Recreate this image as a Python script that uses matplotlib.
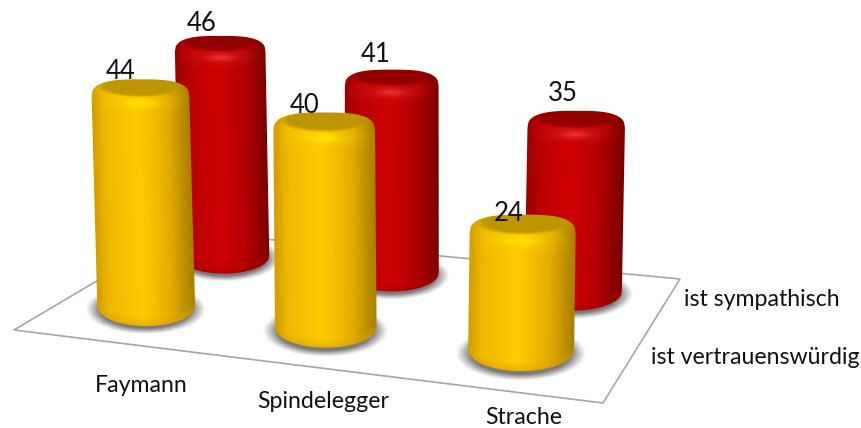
import numpy as np
import matplotlib
matplotlib.use("Agg")
import matplotlib.pyplot as plt
from matplotlib.patches import Polygon
from matplotlib.colors import to_rgb

categorias = ["Faymann", "Spindelegger", "Strache"]
series = ["ist vertrauensw\u00fcrdig", "ist sympathisch"]
vertrauen = [44, 40, 24]
sympathisch = [46, 41, 35]

plt.rcParams["font.family"] = ["Lato", "DejaVu Sans"]

# esquinas del piso en pixeles: frente-izq, frente-der, fondo-der, fondo-izq
PISO = [(14, 330), (603, 403), (680, 279), (181, 231)]

# posiciones de los textos
ETIQ_CAT = [(141, 386), (323, 401), (524, 418)]
ETIQ_SERIE = [(755, 358), (762, 299)]
# desplazamiento de las etiquetas de valor respecto a la cima del cilindro
DESP_VAL = {"amarillo": [(-20, -8), (-20, -7), (-14, -1)],
            "rojo": [(-19, -12), (-16, -15), (-13, -17)]}

# gradiente horizontal del cilindro
POS = [-1.0, -0.75, -0.05, 0.5, 1.0]
AMARILLO = dict(lados=["#d09c00", "#efb900", "#ffcb00", "#e6ae00", "#a67e00"],
                tapa="#bd9600", brillo="#ffe800", borde="#d79e00")
ROJO = dict(lados=["#980000", "#b80000", "#cf0000", "#b20000", "#7a0000"],
            tapa="#930000", brillo="#ee3535", borde="#a80000")


def homografia(esq):
    src = [(0, 0), (1, 0), (1, 1), (0, 1)]
    A, b = [], []
    for (u, v), (x, y) in zip(src, esq):
        A.append([u, v, 1, 0, 0, 0, -u * x, -v * x])
        A.append([0, 0, 0, u, v, 1, -u * y, -v * y])
        b += [x, y]
    return np.append(np.linalg.solve(np.array(A, float), np.array(b, float)), 1).reshape(3, 3)


H = homografia(PISO)


def piso(u, v):
    p = H @ np.array([u, v, 1.0])
    return p[:2] / p[2]


def gradiente(colores):
    # tabla suavizada para que no se noten los quiebres
    ng = np.linspace(-1.3, 1.3, 521)
    lados = np.array([to_rgb(c) for c in colores])
    kern = np.hanning(61)
    kern /= kern.sum()
    tabla = []
    for k in range(3):
        c = np.interp(ng, POS, lados[:, k])
        tabla.append(np.convolve(np.pad(c, 30, mode="edge"), kern, mode="valid"))
    return ng, np.array(tabla)


def cilindro(ax, u, v, valor, estilo, z):
    cx, cy = piso(u, v)
    cy -= 5
    local = np.linalg.norm(piso(u + 0.05, v) - piso(u - 0.05, v)) * 0.86
    r = 0.5 * local + 27.5 - 4 * v
    b = r * 0.40
    btop = r * 0.35
    alto = (valor * 0.1047 - 0.31) * r
    ytop = cy - alto
    lean = (cx - 400) * 0.0214  # las verticales se inclinan por la perspectiva

    def centro(y):
        return cx - lean * (y - cy) / 200.0

    # sombra en el piso
    xs = np.arange(cx - 2 * r, cx + 2 * r)
    ys = np.arange(cy - 2 * b, cy + 2 * b + 20)
    xg, yg = np.meshgrid(xs, ys)
    d = np.sqrt(((xg - cx) / (r * 1.24)) ** 2 + ((yg - cy - 3) / (b * 1.3)) ** 2)
    sombra = np.zeros(xg.shape + (4,))
    sombra[..., :3] = 0.42
    sombra[..., 3] = np.clip((1.0 - d) / 0.24, 0, 1) ** 1.1 * 0.9
    ax.imshow(sombra, extent=(xs[0], xs[-1], ys[-1], ys[0]), zorder=z - 0.5, aspect="auto")

    # cuerpo + tapa, sombreado pixel a pixel
    xs = np.arange(cx - r - 12, cx + r + 12, 0.5)
    ys = np.arange(ytop - btop - 4, cy + b + 4, 0.5)
    xg, yg = np.meshgrid(xs, ys)
    n = np.clip((xg - centro(yg)) / r, -1, 1)
    ng, tabla = gradiente(estilo["lados"])
    img = np.stack([np.interp(n, ng, tabla[k]) for k in range(3)], axis=-1)

    # borde inferior algo mas oscuro
    base = cy + b * np.sqrt(1 - n ** 2)
    m = np.clip(1 - (base - yg) / 9.0, 0, 1)[..., None] * 0.55
    img = img * (1 - m) + np.array(to_rgb(estilo["borde"])) * m

    # bisel: franja un poco mas clara y brillo frontal
    g = np.exp(-((yg - (ytop + btop * 0.3)) / (btop * 0.55)) ** 2)[..., None] * 0.25 * (1 - n[..., None] ** 2)
    img = img * (1 - g) + np.array(to_rgb(estilo["brillo"])) * g
    g = np.exp(-((n / 0.27) ** 2) - ((yg - (ytop + btop * 0.42)) / (btop * 0.2)) ** 2)[..., None] * 0.85
    img = img * (1 - g) + np.array(to_rgb(estilo["brillo"])) * g

    # cara superior oscura
    d = np.sqrt((n / 0.82) ** 2 + ((yg - (ytop - btop * 0.62)) / (btop * 0.62)) ** 2)
    t = np.clip((1.12 - d) / 0.26, 0, 1)[..., None]
    img = img * (1 - t) + np.array(to_rgb(estilo["tapa"])) * t

    ax_img = ax.imshow(img, extent=(xs[0], xs[-1], ys[-1], ys[0]), zorder=z, aspect="auto",
                       interpolation="bilinear")

    # silueta: arriba superelipse (hombros redondeados), abajo elipse
    th = np.linspace(-1, 1, 121)
    sup = np.abs(th) ** 3
    top = [(centro(ytop) + r * t_, ytop - btop * (1 - s) ** (1 / 2.6)) for t_, s in zip(th, sup)]
    bot = [(centro(cy) + r * t_, cy + b * np.sqrt(1 - t_ ** 2)) for t_ in th[::-1]]
    clip = Polygon(top + bot, closed=True, transform=ax.transData, fc="none", ec="none")
    ax.add_patch(clip)
    ax_img.set_clip_path(clip)

    # devuelve la parte alta para colocar la etiqueta
    return centro(ytop), ytop - btop


fig = plt.figure(figsize=(8.62, 4.28), dpi=100)
ax = fig.add_axes([0, 0, 1, 1])

ax.add_patch(Polygon(PISO, closed=True, fc="white", ec="#a6a6a6", lw=1.2, zorder=1))

filas = [(sympathisch, 0.75, ROJO, 10, 1.01, 0.005, "rojo"), (vertrauen, 0.25, AMARILLO, 20, 1.0, 0.0, "amarillo")]
for valores, v, estilo, z, abre, corre, nombre in filas:
    for i, valor in enumerate(valores):
        u = 0.5 + ((i + 0.5) / len(categorias) - 0.5) * abre + corre
        xt, yt = cilindro(ax, u, v, valor, estilo, z + i)
        dx, dy = DESP_VAL[nombre][i]
        ax.text(xt + dx, yt + dy, str(valor), ha="center", va="center", fontsize=18.5,
                color="#111111", zorder=40)

for cat, (x, y) in zip(categorias, ETIQ_CAT):
    ax.text(x, y, cat, ha="center", va="center", fontsize=16.7, color="#111111", zorder=40)

for s, (x, y) in zip(series, ETIQ_SERIE):
    ax.text(x, y, s, ha="center", va="center", fontsize=16.7, color="#111111", zorder=40)

ax.set_xlim(0, 862)
ax.set_ylim(428, 0)
ax.axis("off")
fig.savefig("out.png", dpi=100)
